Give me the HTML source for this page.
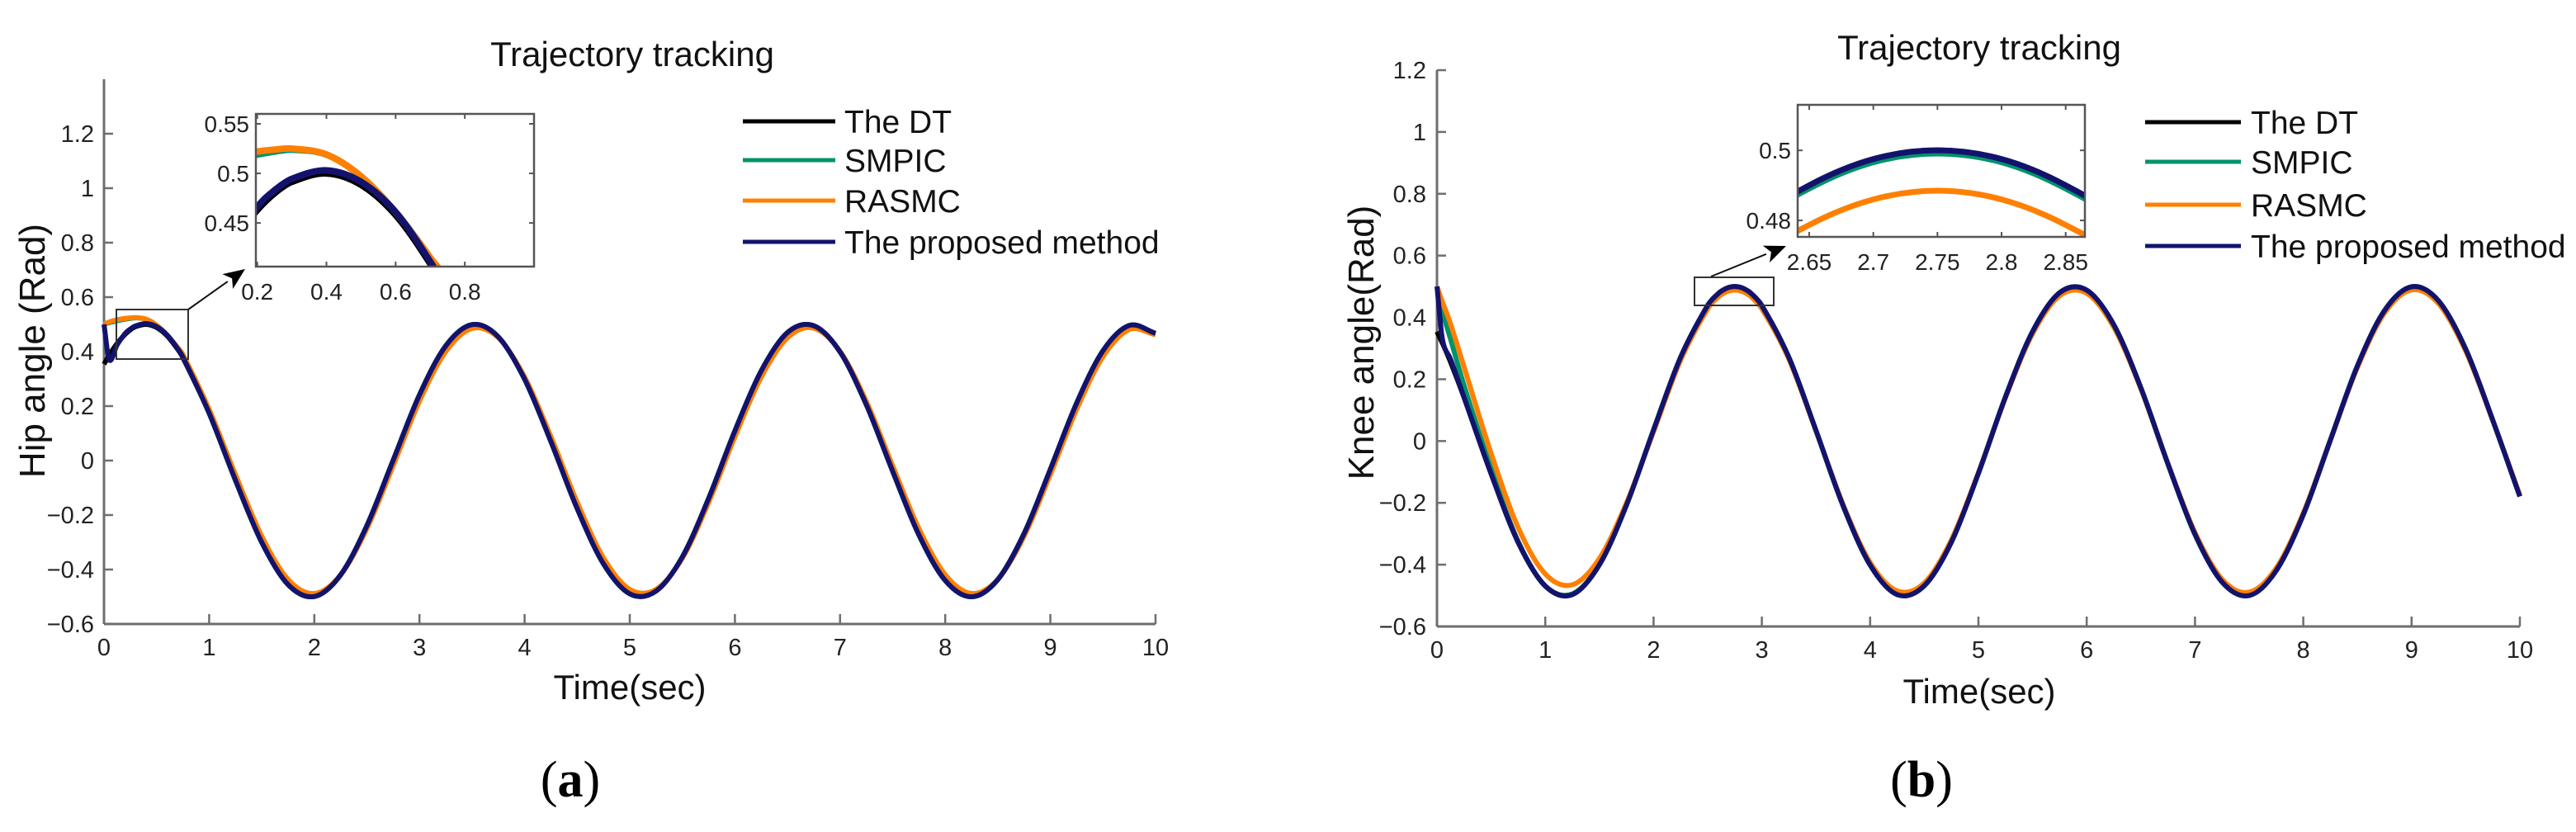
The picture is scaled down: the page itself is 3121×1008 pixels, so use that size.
<!DOCTYPE html>
<html><head><meta charset="utf-8"><style>
html,body{margin:0;padding:0;background:#fff;width:3121px;height:1008px;overflow:hidden;}
svg{display:block;font-family:"Liberation Sans",Arial,sans-serif;}
</style></head><body>
<svg id="fig" width="3121" height="1008" viewBox="0 0 3121 1008" xmlns="http://www.w3.org/2000/svg">
<defs>
<clipPath id="clipA"><rect x="310" y="138" width="337" height="185"/></clipPath>
<clipPath id="clipB"><rect x="2178" y="127" width="348" height="160"/></clipPath>
</defs>
<g id="layer"></g>
<text x="766" y="80" font-size="42" text-anchor="middle" fill="#111">Trajectory tracking</text>
<text x="2398" y="72" font-size="42" text-anchor="middle" fill="#111">Trajectory tracking</text>
<text transform="translate(54,425) rotate(-90)" font-size="44" text-anchor="middle" fill="#111">Hip angle (Rad)</text>
<text transform="translate(1664,415) rotate(-90)" font-size="44" text-anchor="middle" fill="#111">Knee angle(Rad)</text>
<text x="763" y="847" font-size="42" text-anchor="middle" fill="#111">Time(sec)</text>
<text x="2398" y="852" font-size="42" text-anchor="middle" fill="#111">Time(sec)</text>
<text x="691" y="965" font-size="62" text-anchor="middle" font-family="Liberation Serif,serif" fill="#000">(<tspan font-weight="bold">a</tspan>)</text>
<text x="2328" y="965" font-size="62" text-anchor="middle" font-family="Liberation Serif,serif" fill="#000">(<tspan font-weight="bold">b</tspan>)</text>
</svg>
<script>
// ---------- Hip (a) data ----------
const hipTime = [0,0.05,0.125,0.2,0.25,0.3,0.4,0.5,0.6,0.7,0.75,1,1.25,1.5,1.75,2,2.25,2.5,2.75,3,3.25,3.5,3.75,4,4.25,4.5,4.75,5,5.25,5.5,5.75,6,6.25,6.5,6.75,7,7.25,7.5,7.75,8,8.25,8.5,8.75,9,9.25,9.5,9.75,10];
const hipDT = [0.354,0.387,0.430,0.463,0.480,0.4915,0.500,0.4885,0.458,0.409,0.378,0.174,-0.072,-0.300,-0.455,-0.499,-0.420,-0.239,0.001,0.241,0.421,0.499,0.454,0.299,0.070,-0.176,-0.379,-0.489,-0.479,-0.354,-0.139,0.109,0.329,0.470,0.495,0.399,0.205,-0.039,-0.273,-0.440,-0.500,-0.437,-0.268,-0.032,0.211,0.403,0.496,0.467];
const hipSMPIC = [0.50,0.506,0.513,0.519,0.522,0.524,0.519,0.497,0.461,0.415,0.388,0.174,-0.072,-0.300,-0.455,-0.499,-0.420,-0.239,0.001,0.241,0.421,0.499,0.454,0.299,0.070,-0.176,-0.379,-0.489,-0.479,-0.354,-0.139,0.109,0.329,0.470,0.495,0.399,0.205,-0.039,-0.273,-0.440,-0.500,-0.437,-0.268,-0.032,0.211,0.403,0.496,0.467];
const hipRASMC = [0.50,0.509,0.517,0.522,0.524,0.525,0.519,0.497,0.461,0.415,0.390,0.188,-0.051,-0.277,-0.436,-0.488,-0.420,-0.250,-0.019,0.218,0.400,0.485,0.451,0.307,0.088,-0.153,-0.357,-0.473,-0.473,-0.359,-0.154,0.087,0.306,0.451,0.486,0.401,0.217,-0.019,-0.250,-0.419,-0.488,-0.436,-0.278,-0.051,0.188,0.381,0.481,0.462];
const hipProposed = [0.50,0.37,0.425,0.466,0.483,0.4945,0.503,0.4915,0.461,0.411,0.380,0.174,-0.072,-0.300,-0.455,-0.499,-0.420,-0.239,0.001,0.241,0.421,0.499,0.454,0.299,0.070,-0.176,-0.379,-0.489,-0.479,-0.354,-0.139,0.109,0.329,0.470,0.495,0.399,0.205,-0.039,-0.273,-0.440,-0.500,-0.437,-0.268,-0.032,0.211,0.403,0.496,0.467];
// ---------- Knee (b) data ----------
const kneeTime = [0,0.05,0.125,0.25,0.5,0.75,1,1.25,1.5,1.75,2,2.25,2.5,2.6,2.65,2.7,2.75,2.8,2.85,2.9,3,3.25,3.5,3.75,4,4.25,4.5,4.75,5,5.25,5.5,5.75,6,6.25,6.5,6.75,7,7.25,7.5,7.75,8,8.25,8.5,8.75,9,9.25,9.5,9.75,10];
const kneeDT = [0.354,0.317,0.256,0.141,-0.106,-0.328,-0.469,-0.495,-0.400,-0.207,0.036,0.271,0.439,0.478,0.490,0.4975,0.500,0.4975,0.490,0.478,0.438,0.270,0.034,-0.209,-0.401,-0.495,-0.468,-0.327,-0.104,0.143,0.354,0.480,0.488,0.376,0.172,-0.074,-0.302,-0.456,-0.499,-0.419,-0.238,0.003,0.243,0.422,0.499,0.453,0.297,0.067,-0.179];
const kneeSMPIC = [0.50,0.42,0.33,0.18,-0.09,-0.325,-0.469,-0.495,-0.400,-0.207,0.036,0.271,0.438,0.4773,0.4891,0.4966,0.4991,0.4966,0.4891,0.4773,0.438,0.270,0.034,-0.209,-0.401,-0.495,-0.468,-0.327,-0.104,0.143,0.354,0.480,0.488,0.376,0.172,-0.074,-0.302,-0.456,-0.499,-0.419,-0.238,0.003,0.243,0.422,0.499,0.453,0.297,0.067,-0.179];
const kneeRASMC = [0.50,0.45,0.38,0.24,-0.04,-0.28,-0.43,-0.465,-0.38,-0.20,0.03,0.262,0.428,0.467,0.4787,0.486,0.4885,0.486,0.4787,0.467,0.428,0.265,0.033,-0.205,-0.393,-0.485,-0.459,-0.320,-0.102,0.140,0.347,0.470,0.478,0.368,0.169,-0.073,-0.296,-0.447,-0.489,-0.411,-0.233,0.003,0.238,0.414,0.489,0.444,0.291,0.066,-0.175];
const kneeProposed = [0.50,0.33,0.265,0.141,-0.106,-0.328,-0.469,-0.497,-0.400,-0.207,0.036,0.271,0.439,0.478,0.490,0.4975,0.500,0.4975,0.490,0.478,0.438,0.270,0.034,-0.209,-0.401,-0.497,-0.468,-0.327,-0.104,0.143,0.354,0.480,0.488,0.376,0.172,-0.074,-0.302,-0.456,-0.500,-0.419,-0.238,0.003,0.243,0.422,0.499,0.453,0.297,0.067,-0.179];
// ---------- ticks ----------
const mainYTicks = [-0.6,-0.4,-0.2,0,0.2,0.4,0.6,0.8,1,1.2];
const mainYTickLabels = ["\u22120.6","\u22120.4","\u22120.2","0","0.2","0.4","0.6","0.8","1","1.2"];
const mainXTicks = [0,1,2,3,4,5,6,7,8,9,10];
const insetAXTicks = [0.2,0.4,0.6,0.8];
const insetAXTickLabels = ["0.2","0.4","0.6","0.8"];
const insetAYTicks = [0.45,0.5,0.55];
const insetAYTickLabels = ["0.45","0.5","0.55"];
const insetBXTicks = [2.65,2.7,2.75,2.8,2.85];
const insetBXTickLabels = ["2.65","2.7","2.75","2.8","2.85"];
const insetBYTicks = [0.48,0.5];
const insetBYTickLabels = ["0.48","0.5"];
const seriesNames = ["The DT","SMPIC","RASMC","The proposed method"];
const seriesColors = ["#000000","#00936a","#ff8000","#13136e"];

const NS="http://www.w3.org/2000/svg";
const layer=document.getElementById('layer');
function mk(tag,attrs,parent){const e=document.createElementNS(NS,tag);for(const k in attrs)e.setAttribute(k,attrs[k]);(parent||layer).appendChild(e);return e;}
function axis(x0,x1,d0,d1,y0,y1,r0,r1){return{sx:v=>x0+(v-d0)/(d1-d0)*(x1-x0),sy:v=>y0+(v-r0)/(r1-r0)*(y1-y0)};}
function pathD(xs,ys,ax){
  const n=xs.length,m=[];
  for(let i=0;i<n;i++){
    if(i===0)m.push((ys[1]-ys[0])/(xs[1]-xs[0]));
    else if(i===n-1)m.push((ys[n-1]-ys[n-2])/(xs[n-1]-xs[n-2]));
    else m.push((ys[i+1]-ys[i-1])/(xs[i+1]-xs[i-1]));
  }
  let d='M'+ax.sx(xs[0]).toFixed(2)+','+ax.sy(ys[0]).toFixed(2);
  for(let i=0;i<n-1;i++){
    const h=(xs[i+1]-xs[i])/3;
    const c1x=ax.sx(xs[i]+h),c1y=ax.sy(ys[i]+m[i]*h);
    const c2x=ax.sx(xs[i+1]-h),c2y=ax.sy(ys[i+1]-m[i+1]*h);
    d+='C'+c1x.toFixed(2)+','+c1y.toFixed(2)+' '+c2x.toFixed(2)+','+c2y.toFixed(2)+' '+ax.sx(xs[i+1]).toFixed(2)+','+ax.sy(ys[i+1]).toFixed(2);
  }
  return d;
}
function drawSeries(g,xs,list,ax,w,tag){
  list.forEach((ys,i)=>{
    const p=mk('path',{d:pathD(xs,ys,ax),fill:'none',stroke:seriesColors[i],'stroke-width':w,'stroke-linejoin':'round'},g);
    
    
  });
}
function mainAxes(ax,xL,xR,yB,yT,tagp,labelRight){
  const g=mk('g',{});
  
  
  mk('line',{x1:xL,y1:yT,x2:xL,y2:yB,stroke:'#6e6e6e','stroke-width':3},g);
  mk('line',{x1:xL,y1:yB,x2:xR,y2:yB,stroke:'#6e6e6e','stroke-width':3},g);
  mainYTicks.forEach((v,i)=>{
    const y=ax.sy(v);
    mk('line',{x1:xL,y1:y,x2:xL+11,y2:y,stroke:'#6e6e6e','stroke-width':2.5},g);
    const t=mk('text',{x:labelRight,y:y+10,'font-size':29,'text-anchor':'end',fill:'#222'},g);
    t.textContent=mainYTickLabels[i];
    
    
  });
  mainXTicks.forEach(v=>{
    const x=ax.sx(v);
    mk('line',{x1:x,y1:yB,x2:x,y2:yB-12,stroke:'#6e6e6e','stroke-width':2.5},g);
    const t=mk('text',{x:x,y:yB+38,'font-size':29,'text-anchor':'middle',fill:'#222'},g);
    t.textContent=String(v);
    
    
  });
}
function insetAxes(ax,x0,y0,x1,y1,xt,xl,yt,yl,tagp){
  const g=mk('g',{});
  
  
  mk('rect',{x:x0,y:y0,width:x1-x0,height:y1-y0,fill:'none',stroke:'#555','stroke-width':2.5},g);
  xt.forEach((v,i)=>{const x=ax.sx(v);
    mk('line',{x1:x,y1:y1,x2:x,y2:y1-6,stroke:'#555','stroke-width':2},g);
    mk('line',{x1:x,y1:y0,x2:x,y2:y0+6,stroke:'#555','stroke-width':2},g);
    const t=mk('text',{x:x,y:y1+40,'font-size':28,'text-anchor':'middle',fill:'#222'},g);
    t.textContent=xl[i];
    
    });
  yt.forEach((v,i)=>{const y=ax.sy(v);
    mk('line',{x1:x0,y1:y,x2:x0+6,y2:y,stroke:'#555','stroke-width':2},g);
    mk('line',{x1:x1,y1:y,x2:x1-6,y2:y,stroke:'#555','stroke-width':2},g);
    const t=mk('text',{x:x0-8,y:y+10,'font-size':28,'text-anchor':'end',fill:'#222'},g);
    t.textContent=yl[i];
    
    });
}
function legend(xL,xR,xT,rows,tagp){
  const g=mk('g',{});
  
  
  seriesNames.forEach((n,i)=>{
    const e=mk('g',{},g);
    
    
    mk('line',{x1:xL,y1:rows[i],x2:xR,y2:rows[i],stroke:seriesColors[i],'stroke-width':5},e);
    const t=mk('text',{x:xT,y:rows[i]+14,'font-size':39,fill:'#111'},e);
    t.textContent=n;
  });
}
function zoomBox(x0,y0,x1,y1,ax0,ay0,tx,ty,tagp){
  const g=mk('g',{});
  
  
  mk('rect',{x:x0,y:y0,width:x1-x0,height:y1-y0,fill:'none',stroke:'#333','stroke-width':2},g);
  const ang=Math.atan2(ty-ay0,tx-ax0),L=26,W=11;
  const bx=tx-L*Math.cos(ang),by=ty-L*Math.sin(ang);
  mk('line',{x1:ax0,y1:ay0,x2:bx,y2:by,stroke:'#111','stroke-width':2},g);
  const nx=-Math.sin(ang)*W,ny=Math.cos(ang)*W;
  mk('polygon',{points:`${tx},${ty} ${bx+nx},${by+ny} ${bx+L*0.25*Math.cos(ang)},${by+L*0.25*Math.sin(ang)} ${bx-nx},${by-ny}`,fill:'#000'},g);
}

// ----- Panel a -----
const axA=axis(126,1400,0,10,756,162,-0.6,1.2);
mainAxes(axA,126,1400,756,96,'hip',114);
const gA=mk('g',{});


drawSeries(gA,hipTime,[hipDT,hipSMPIC,hipRASMC,hipProposed],axA,6,'hip');
zoomBox(141,375,228,435,228,375,297,326,'hip');
const axAi=axis(310,647,0.196,1.0,138,323,0.56,0.406);
const gAi=mk('g',{'clip-path':'url(#clipA)'});


drawSeries(gAi,hipTime,[hipDT,hipSMPIC,hipRASMC,hipProposed],axAi,8,'hip-inset');
insetAxes(axAi,310,138,647,323,insetAXTicks,insetAXTickLabels,insetAYTicks,insetAYTickLabels,'hip');
legend(900,1012,1023,[147,194,243,293],'hip');

// ----- Panel b -----
const axB=axis(1741,3053,0,10,759,85,-0.6,1.2);
mainAxes(axB,1741,3053,759,85,'knee',1728);
const gB=mk('g',{});


drawSeries(gB,kneeTime,[kneeDT,kneeSMPIC,kneeRASMC,kneeProposed],axB,6,'knee');
zoomBox(2053,336,2149,370,2073,335,2164,298,'knee');
const axBi=axis(2178,2526,2.641,2.865,127,287,0.513,0.4753);
const gBi=mk('g',{'clip-path':'url(#clipB)'});


drawSeries(gBi,kneeTime,[kneeDT,kneeSMPIC,kneeRASMC,kneeProposed],axBi,7,'knee-inset');
insetAxes(axBi,2178,127,2526,287,insetBXTicks,insetBXTickLabels,insetBYTicks,insetBYTickLabels,'knee');
legend(2599,2715,2727,[148,196,248,298],'knee');
</script>
</body></html>
